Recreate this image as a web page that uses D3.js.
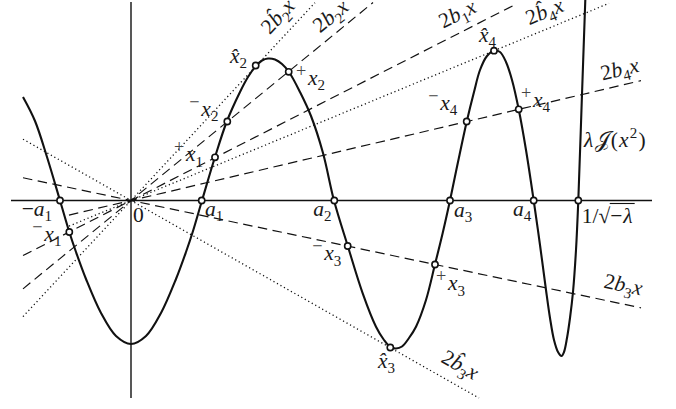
<!DOCTYPE html>
<html><head><meta charset="utf-8">
<script src="https://cdn.jsdelivr.net/npm/d3@7"></script>
<style>html,body{margin:0;padding:0;background:#fff;} svg{display:block}</style>
</head><body>
<script>
// ---- data (units: arbitrary) ----
const curveX = [-10.8,-9.6,-8.4,-7.1,-6.17,-5.5,-4.5,-3.0,-1.5,0,1.5,3.0,4.5,5.5,6.17,7.1,8.4,9.6,10.9,11.7,12.5,13.1,13.7,14.4,15.1,15.8,16.9,18.0,19.2,20.3,21.67,23.17,24.5,25.3,25.93,26.5,27.1,27.8,28.5,29.5,30.4,31.17,31.9,32.7,33.57,34.3,34.9,35.6,36.3,36.9,37.5,38.1,38.77,39.5,40.27,40.9,41.5,41.9,42.3,42.7,43.05,43.3,43.6,43.9,44.2,44.5,44.73,45.08,45.43];
const curveY = [10.35,7.95,4.35,0,-3.15,-5.15,-7.85,-11.25,-13.55,-14.35,-13.55,-11.25,-7.85,-5.15,-3.15,0,4.35,7.95,10.85,12.35,13.45,14.0,14.2,14.1,13.65,12.85,10.85,8.45,4.75,0,-4.52,-9.28,-12.62,-13.95,-14.65,-14.8,-14.6,-13.75,-12.62,-9.95,-6.38,-3.25,0,3.85,7.88,10.85,13.05,14.45,14.98,14.85,13.85,12.05,9.12,5.05,0,-4.45,-8.95,-11.75,-13.95,-15.15,-15.55,-15.15,-13.75,-11.75,-9.15,-4.95,0,10.05,20.05];

const markNames = ["-a1","-x1","a1","+x1","-x2","xh2","+x2","a2","-x3","xh3","+x3","a3","-x4","xh4","+x4","a4","root"];
const markX = [-7.1,-6.17,7.07,8.4,9.63,12.47,15.77,20.33,21.67,25.93,30.4,31.9,33.57,36.3,38.77,40.27,44.73];
const markY = [0,-3.15,0,4.32,7.9,13.5,12.87,0,-4.55,-14.7,-6.4,0,7.9,14.98,9.12,0,0];

const lineNames = ["bh2","b2","b1","bh4","b4","b3","bh3"];
const lineSlope = [1.075,0.818,0.51,0.4125,0.235,-0.2105,-0.5676];
const lineFrom  = [-10.8,-10.8,-10.8,-6.2,-6.2,-10.8,-10.8];
const lineTo    = [18.4,24.2,38.5,47.8,51.0,51.0,34.8];

const xAxisExtent = [-12.0, 52.1];
const yAxisExtent = [-19.75, 19.85];

// ---- setup ----
const W = 676, H = 409;
const FONT = "'Liberation Serif','DejaVu Serif',serif";
const FS = 21.5;
const x = d3.scaleLinear().domain([-13.1, 54.5]).range([0, W]);
const y = d3.scaleLinear().domain([20.05, -20.85]).range([0, H]);

const svg = d3.select("body").append("svg").attr("width", W).attr("height", H);
const ink = "#111";

// axes
svg.append("line").attr("x1", x(xAxisExtent[0])).attr("x2", x(xAxisExtent[1]))
  .attr("y1", y(0)).attr("y2", y(0)).attr("stroke", ink).attr("stroke-width", 1.4);
svg.append("line").attr("x1", x(0)).attr("x2", x(0))
  .attr("y1", y(yAxisExtent[0])).attr("y2", y(yAxisExtent[1])).attr("stroke", ink).attr("stroke-width", 1.4);

// rays through origin
lineNames.forEach((n, i) => {
  const hat = n.startsWith("bh");
  svg.append("line")
    .attr("x1", x(lineFrom[i])).attr("y1", y(lineSlope[i] * lineFrom[i]))
    .attr("x2", x(lineTo[i])).attr("y2", y(lineSlope[i] * lineTo[i]))
    .attr("stroke", ink).attr("stroke-width", hat ? 1.3 : 1.2)
    .attr("stroke-dasharray", hat ? "1.2,2.8" : "9.5,5.5")
    .attr("stroke-linecap", "butt");
});

// curve
const pts = curveX.map((v, i) => [v, curveY[i]]);
svg.append("path").datum(pts)
  .attr("d", d3.line().x(d => x(d[0])).y(d => y(d[1])).curve(d3.curveCatmullRom.alpha(0.5)))
  .attr("fill", "none").attr("stroke", ink).attr("stroke-width", 2.1).attr("stroke-linejoin", "round");

// marks
svg.selectAll("circle.m").data(markX).enter().append("circle")
  .attr("cx", (d, i) => x(d)).attr("cy", (d, i) => y(markY[i])).attr("r", 3.1)
  .attr("fill", "#fff").attr("stroke", ink).attr("stroke-width", 1.6);

// ---- rich text helper ----
function rich(parent, parts, size) {
  const t = parent.append("text").attr("font-family", FONT).attr("font-size", size).attr("fill", "#1a1a1a");
  let shift = 0, afterPre = false;
  parts.forEach(([s, k]) => {
    const ts = t.append("tspan").text(s);
    let target = 0;
    if (k === "i") ts.attr("font-style", "italic");
    if (k === "sub") { ts.attr("font-size", size * 0.7); target = size * 0.25; }
    if (k === "sup") { ts.attr("font-size", size * 0.7); target = -size * 0.42; }
    if (k === "pre") { ts.attr("font-size", size * 0.85).attr("fill", "#444"); target = -size * 0.38; }
    if (afterPre) ts.attr("dx", size * 0.08);
    afterPre = (k === "pre");
    ts.attr("dy", target - shift);
    shift = target;
  });
  return t;
}
const HAT = "\u0302";

// labels at marks: [markIndex, dx, dy, parts]
const markLabels = [
  [0, -38.3, 15.5, [["\u2212","r"],["a","i"],["1","sub"]]],
  [1, -37, 9, [["\u2212","pre"],["x","i"],["1","sub"]]],
  [2, 3.3, 15.5, [["a","i"],["1","sub"]]],
  [3, -41, 4, [["+","pre"],["x","i"],["1","sub"]]],
  [4, -38, -5.5, [["\u2212","pre"],["x","i"],["2","sub"]]],
  [5, -25.7, -2.7, [["x" + HAT,"i"],["2","sub"]]],
  [6, 7.3, 13.3, [["+","pre"],["x","i"],["2","sub"]]],
  [7, -21, 15.5, [["a","i"],["2","sub"]]],
  [8, -35.5, 14.3, [["\u2212","pre"],["x","i"],["3","sub"]]],
  [9, -12.3, 20, [["x" + HAT,"i"],["3","sub"]]],
  [10, 1, 25.7, [["+","pre"],["x","i"],["3","sub"]]],
  [11, 4, 16.5, [["a","i"],["3","sub"]]],
  [12, -38.5, -11.7, [["\u2212","pre"],["x","i"],["4","sub"]]],
  [13, -15, -8.7, [["x" + HAT,"i"],["4","sub"]]],
  [14, 2.3, -2.3, [["+","pre"],["x","i"],["4","sub"]]],
  [15, -20.7, 15.5, [["a","i"],["4","sub"]]]
];
markLabels.forEach(([mi, dx, dy, parts]) => {
  rich(svg, parts, FS).attr("x", x(markX[mi]) + dx).attr("y", y(markY[mi]) + dy);
});

// origin label
rich(svg, [["0","r"]], FS).attr("x", x(0) + 2).attr("y", y(0) + 21);

// 1/sqrt(-lambda)
{
  const mx = x(markX[16]), my = y(markY[16]);
  const t1 = rich(svg, [["1/\u221A","r"]], FS).attr("x", mx + 3.4).attr("y", my + 22.5);
  const w1 = t1.node().getComputedTextLength();
  const t2 = rich(svg, [["\u2212","r"],["\u03BB","i"]], FS).attr("x", mx + 3.4 + w1).attr("y", my + 22.5)
    .attr("letter-spacing", 1);
  const b2 = t2.node().getBBox();
  svg.append("line").attr("x1", mx + 3.4 + w1 - 0.5).attr("x2", b2.x + b2.width + 1)
    .attr("y1", my + 3).attr("y2", my + 3).attr("stroke", ink).attr("stroke-width", 1.1);
}

// curve label
rich(svg, [["\u03BB","i"],["\uD835\uDCA5","r"],["(","r"],["x","i"],["2","sup"],[")","r"]], FS)
  .attr("x", x(markX[16]) + 5.7).attr("y", y(0) - 53.5).attr("letter-spacing", 1.2);

// ray labels: [lineIndex, footPixelX, perpOffset, parts]
const rayLabels = [
  [0, 291.0, 11.0, [["2","r"],["b" + HAT,"i"],["2","sub"],["x","i"]]],
  [1, 341.0, 9.5, [["2","r"],["b","i"],["2","sub"],["x","i"]]],
  [2, 465.5, 11.0, [["2","r"],["b","i"],["1","sub"],["x","i"]]],
  [3, 551.0, 10.0, [["2","r"],["b" + HAT,"i"],["4","sub"],["x","i"]]],
  [4, 623.3, 9.0, [["2","r"],["b","i"],["4","sub"],["x","i"]]],
  [5, 619.5, 12.0, [["2","r"],["b","i"],["3","sub"],["x","i"]]],
  [6, 450.5, 12.5, [["2","r"],["b" + HAT,"i"],["3","sub"],["x","i"]]]
];
rayLabels.forEach(([li, fx, off, parts]) => {
  const xd = x.invert(fx);
  const fy = y(lineSlope[li] * xd);
  const ang = Math.atan2(y(lineSlope[li]) - y(0), x(1) - x(0)) * 180 / Math.PI;
  const g = svg.append("g").attr("transform", `translate(${fx},${fy}) rotate(${ang}) translate(0,${-off})`);
  rich(g, parts, FS).attr("text-anchor", "middle").attr("dy", "0.3em");
});
</script>
</body></html>
